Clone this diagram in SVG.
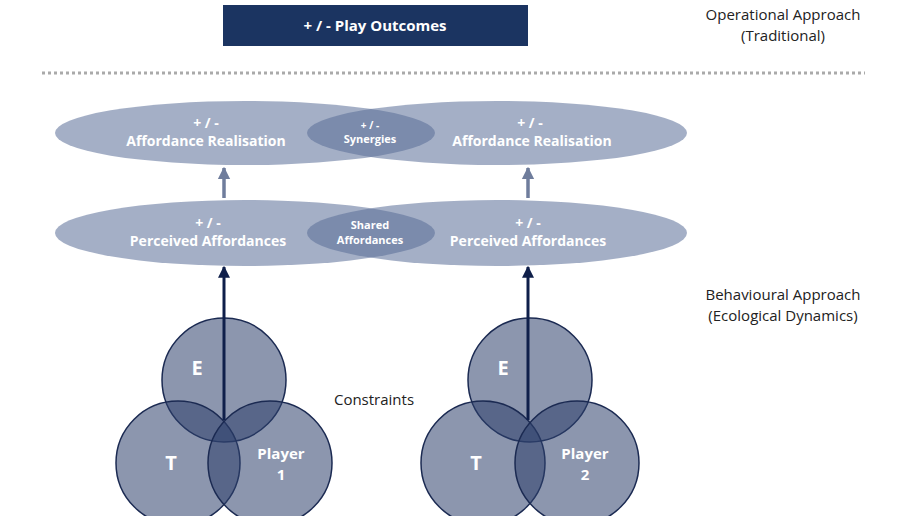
<svg xmlns="http://www.w3.org/2000/svg" width="911" height="516" viewBox="0 0 911 516">
<defs>
<style>
.t{font-family:"Open Sans","Liberation Sans",sans-serif;fill:#fff;font-weight:bold;text-anchor:middle}
.d{font-family:"Open Sans","Liberation Sans",sans-serif;fill:#222;font-size:15px;text-anchor:middle}
.el{fill:#5a6d98;fill-opacity:0.55}
.ci{fill:#2e3f6c;fill-opacity:0.55;stroke:#1b2a52;stroke-width:1.5}
</style>
<marker id="ah" viewBox="0 0 10 10" refX="9" refY="5" markerWidth="4" markerHeight="4" orient="auto"><path d="M0,0L10,5L0,10z" fill="#0f1f4a"/></marker>
<marker id="ah2" viewBox="0 0 10 10" refX="9" refY="5" markerWidth="3.5" markerHeight="4" orient="auto"><path d="M0,0L10,5L0,10z" fill="#6f7d9c"/></marker>
</defs>
<rect width="911" height="516" fill="#fff"/>
<g id="outcomes"><rect x="223" y="5" width="305" height="41" fill="#1b3461"/><text class="t" x="375" y="31" font-size="15" font-weight="normal">+ / - Play Outcomes</text></g>
<text class="d" x="783" y="20">Operational Approach</text>
<text class="d" x="783" y="41">(Traditional)</text>
<line x1="42" y1="73" x2="865" y2="73" stroke="#aaa" stroke-width="3" stroke-dasharray="3,3"/>
<g id="realisation1"><ellipse class="el" cx="245" cy="133" rx="190" ry="32"/><text class="t" x="206" y="128" font-size="14">+ / -</text><text class="t" x="206" y="146" font-size="14">Affordance Realisation</text></g>
<g id="realisation2"><ellipse class="el" cx="497" cy="133" rx="190" ry="32"/><text class="t" x="530" y="128" font-size="14">+ / -</text><text class="t" x="532" y="146" font-size="14">Affordance Realisation</text></g>
<g id="synergies"><text class="t" x="370" y="129" font-size="10">+ / -</text><text class="t" x="370" y="143" font-size="11">Synergies</text></g>
<g id="perceived1"><ellipse class="el" cx="245" cy="233" rx="190" ry="33"/><text class="t" x="208" y="228" font-size="14">+ / -</text><text class="t" x="208" y="246" font-size="14">Perceived Affordances</text></g>
<g id="perceived2"><ellipse class="el" cx="497" cy="233" rx="190" ry="33"/><text class="t" x="528" y="228" font-size="14">+ / -</text><text class="t" x="528" y="246" font-size="14">Perceived Affordances</text></g>
<g id="shared"><text class="t" x="370" y="229" font-size="11">Shared</text><text class="t" x="370" y="244" font-size="11">Affordances</text></g>
<text class="d" x="783" y="300">Behavioural Approach</text>
<text class="d" x="783" y="321">(Ecological Dynamics)</text>
<g id="player1"><circle class="ci" cx="224" cy="380" r="62"/><circle class="ci" cx="178" cy="463" r="62"/><circle class="ci" cx="270" cy="463" r="62"/>
<text class="t" x="197" y="375" font-size="20" font-weight="normal">E</text><text class="t" x="171" y="470" font-size="20" font-weight="normal">T</text><text class="t" x="281" y="459" font-size="15" font-weight="normal">Player</text><text class="t" x="281" y="480" font-size="15" font-weight="normal">1</text></g>
<g id="player2"><circle class="ci" cx="530" cy="380" r="62"/><circle class="ci" cx="483" cy="463" r="62"/><circle class="ci" cx="577" cy="463" r="62"/>
<text class="t" x="503" y="375" font-size="20" font-weight="normal">E</text><text class="t" x="476" y="470" font-size="20" font-weight="normal">T</text><text class="t" x="585" y="459" font-size="15" font-weight="normal">Player</text><text class="t" x="585" y="480" font-size="15" font-weight="normal">2</text></g>
<text class="d" x="374" y="405">Constraints</text>
<g id="connectors" fill="none">
<line x1="224" y1="420" x2="224" y2="267" stroke="#0f1f4a" stroke-width="3" marker-end="url(#ah)"/>
<line x1="528" y1="420" x2="528" y2="267" stroke="#0f1f4a" stroke-width="3" marker-end="url(#ah)"/>
<line x1="224" y1="198" x2="224" y2="168" stroke="#6f7d9c" stroke-width="3.5" marker-end="url(#ah2)"/>
<line x1="528" y1="198" x2="528" y2="168" stroke="#6f7d9c" stroke-width="3.5" marker-end="url(#ah2)"/>
</g>
</svg>
